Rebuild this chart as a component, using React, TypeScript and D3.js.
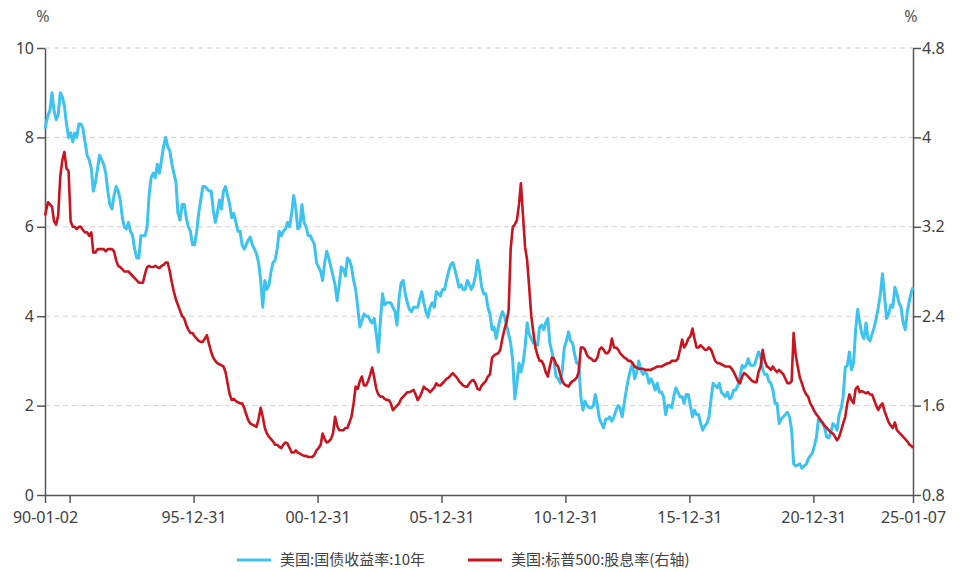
import * as d3 from "d3";
import React, { useEffect, useRef } from "react";

// monthly readings, Jan 1990 .. Jan 2025
const treasury10y = [
  8.2, 8.5, 8.6, 9.0, 8.6, 8.4, 8.5, 9.0, 8.9, 8.7, 8.3, 8.0, // 1990
  8.1, 7.9, 8.1, 8.0, 8.3, 8.3, 8.2, 7.9, 7.6, 7.5, 7.3, 6.8, // 1991
  7.0, 7.3, 7.6, 7.5, 7.4, 7.2, 6.8, 6.5, 6.4, 6.7, 6.9, 6.8, // 1992
  6.6, 6.2, 6.0, 5.95, 6.1, 5.9, 5.8, 5.5, 5.3, 5.3, 5.8, 5.8, // 1993
  5.8, 6.0, 6.7, 7.1, 7.2, 7.1, 7.4, 7.2, 7.5, 7.8, 8.0, 7.8, // 1994
  7.7, 7.4, 7.2, 7.0, 6.3, 6.15, 6.5, 6.5, 6.2, 6.0, 5.9, 5.6, // 1995
  5.6, 5.9, 6.3, 6.6, 6.9, 6.9, 6.85, 6.8, 6.8, 6.4, 6.1, 6.3, // 1996
  6.6, 6.4, 6.8, 6.9, 6.7, 6.5, 6.2, 6.3, 6.1, 5.9, 5.9, 5.6, // 1997
  5.5, 5.6, 5.7, 5.77, 5.6, 5.5, 5.4, 5.2, 4.8, 4.2, 4.8, 4.6, // 1998
  4.7, 5.0, 5.2, 5.25, 5.5, 5.9, 5.8, 5.9, 5.95, 6.1, 6.0, 6.3, // 1999
  6.7, 6.4, 5.95, 6.0, 6.5, 6.1, 6.0, 5.8, 5.8, 5.7, 5.6, 5.2, // 2000
  5.1, 5.0, 4.8, 5.2, 5.45, 5.3, 5.1, 4.9, 4.7, 4.35, 4.7, 5.1, // 2001
  5.05, 4.9, 5.3, 5.25, 5.1, 4.8, 4.6, 4.2, 3.76, 3.9, 4.05, 4.0, // 2002
  4.0, 3.9, 3.85, 3.95, 3.6, 3.2, 3.9, 4.5, 4.25, 4.3, 4.3, 4.3, // 2003
  4.2, 4.1, 3.8, 4.4, 4.75, 4.8, 4.5, 4.3, 4.15, 4.1, 4.2, 4.2, // 2004
  4.2, 4.4, 4.55, 4.3, 4.1, 3.98, 4.2, 4.3, 4.2, 4.55, 4.5, 4.45, // 2005
  4.6, 4.6, 4.8, 5.0, 5.15, 5.2, 5.05, 4.85, 4.65, 4.7, 4.6, 4.6, // 2006
  4.8, 4.7, 4.6, 4.7, 4.9, 5.25, 5.0, 4.65, 4.5, 4.5, 4.2, 4.05, // 2007
  3.7, 3.75, 3.5, 3.75, 3.95, 4.1, 4.0, 3.8, 3.6, 3.4, 3.0, 2.15, // 2008
  2.5, 2.95, 2.75, 2.95, 3.3, 3.85, 3.6, 3.5, 3.4, 3.4, 3.35, 3.75, // 2009
  3.8, 3.7, 3.85, 3.95, 3.4, 3.2, 3.0, 2.65, 2.6, 2.5, 2.8, 3.3, // 2010
  3.45, 3.65, 3.45, 3.4, 3.15, 2.95, 2.95, 2.2, 1.9, 2.1, 2.0, 1.95, // 2011
  1.95, 2.0, 2.25, 2.0, 1.7, 1.6, 1.5, 1.7, 1.7, 1.75, 1.65, 1.75, // 2012
  1.9, 2.0, 1.95, 1.75, 2.05, 2.35, 2.6, 2.8, 2.95, 2.6, 2.75, 3.0, // 2013
  2.8, 2.7, 2.75, 2.7, 2.5, 2.6, 2.5, 2.35, 2.5, 2.3, 2.3, 2.2, // 2014
  1.8, 2.0, 2.0, 1.95, 2.2, 2.4, 2.3, 2.2, 2.2, 2.05, 2.25, 2.25, // 2015
  2.0, 1.75, 1.9, 1.8, 1.8, 1.6, 1.45, 1.55, 1.6, 1.75, 2.15, 2.5, // 2016
  2.45, 2.4, 2.5, 2.3, 2.25, 2.2, 2.3, 2.15, 2.2, 2.35, 2.35, 2.45, // 2017
  2.65, 2.9, 2.85, 2.9, 3.05, 2.9, 2.9, 2.9, 3.05, 3.2, 3.1, 2.8, // 2018
  2.7, 2.7, 2.55, 2.5, 2.35, 2.05, 2.05, 1.6, 1.7, 1.75, 1.8, 1.85, // 2019
  1.75, 1.45, 0.7, 0.65, 0.67, 0.7, 0.6, 0.65, 0.68, 0.8, 0.88, 0.93, // 2020
  1.1, 1.3, 1.7, 1.65, 1.6, 1.5, 1.3, 1.28, 1.4, 1.6, 1.55, 1.45, // 2021
  1.8, 1.95, 2.2, 2.85, 2.9, 3.2, 2.8, 2.95, 3.7, 4.15, 3.85, 3.6, // 2022
  3.5, 3.85, 3.5, 3.45, 3.6, 3.75, 3.95, 4.2, 4.5, 4.95, 4.45, 3.95, // 2023
  4.05, 4.25, 4.2, 4.65, 4.5, 4.3, 4.2, 3.85, 3.7, 4.1, 4.35, 4.55, // 2024
  4.65, // 2025
];

const sp500DivYield = [
  3.3, 3.42, 3.4, 3.38, 3.25, 3.22, 3.3, 3.65, 3.8, 3.87, 3.72, 3.7, // 1990
  3.25, 3.2, 3.2, 3.18, 3.2, 3.2, 3.17, 3.15, 3.15, 3.12, 3.15, 2.97, // 1991
  2.97, 3.0, 3.0, 3.0, 3.0, 2.98, 3.0, 3.0, 3.0, 2.98, 2.9, 2.85, // 1992
  2.84, 2.82, 2.8, 2.8, 2.8, 2.78, 2.76, 2.74, 2.72, 2.7, 2.7, 2.7, // 1993
  2.78, 2.84, 2.85, 2.84, 2.84, 2.85, 2.84, 2.83, 2.85, 2.86, 2.88, 2.88, // 1994
  2.8, 2.7, 2.62, 2.55, 2.5, 2.45, 2.4, 2.38, 2.32, 2.28, 2.25, 2.25, // 1995
  2.22, 2.2, 2.18, 2.17, 2.17, 2.2, 2.23, 2.15, 2.08, 2.03, 2.0, 1.98, // 1996
  1.97, 1.96, 1.95, 1.9, 1.8, 1.7, 1.65, 1.66, 1.64, 1.63, 1.62, 1.62, // 1997
  1.58, 1.52, 1.47, 1.44, 1.43, 1.42, 1.41, 1.48, 1.58, 1.5, 1.4, 1.35, // 1998
  1.32, 1.3, 1.28, 1.25, 1.25, 1.23, 1.22, 1.25, 1.27, 1.26, 1.22, 1.18, // 1999
  1.18, 1.2, 1.18, 1.17, 1.16, 1.15, 1.15, 1.14, 1.14, 1.14, 1.16, 1.2, // 2000
  1.22, 1.25, 1.35, 1.3, 1.27, 1.28, 1.3, 1.35, 1.5, 1.42, 1.38, 1.38, // 2001
  1.38, 1.4, 1.4, 1.45, 1.5, 1.62, 1.77, 1.75, 1.82, 1.86, 1.78, 1.78, // 2002
  1.82, 1.88, 1.94, 1.85, 1.75, 1.7, 1.68, 1.68, 1.66, 1.65, 1.65, 1.62, // 2003
  1.56, 1.58, 1.6, 1.62, 1.66, 1.68, 1.7, 1.72, 1.72, 1.73, 1.74, 1.7, // 2004
  1.65, 1.68, 1.72, 1.77, 1.75, 1.74, 1.72, 1.74, 1.76, 1.8, 1.78, 1.78, // 2005
  1.8, 1.82, 1.84, 1.85, 1.87, 1.89, 1.87, 1.85, 1.82, 1.8, 1.78, 1.77, // 2006
  1.77, 1.8, 1.82, 1.83, 1.8, 1.75, 1.74, 1.78, 1.8, 1.82, 1.86, 1.88, // 2007
  2.03, 2.05, 2.06, 2.07, 2.1, 2.2, 2.28, 2.35, 2.45, 3.0, 3.2, 3.22, // 2008
  3.26, 3.4, 3.59, 3.3, 3.02, 2.9, 2.66, 2.4, 2.25, 2.12, 2.05, 2.0, // 2009
  2.0, 1.96, 1.9, 1.86, 1.95, 2.03, 2.02, 1.97, 1.95, 1.88, 1.82, 1.79, // 2010
  1.78, 1.77, 1.8, 1.82, 1.83, 1.85, 1.9, 2.12, 2.12, 2.1, 2.05, 2.03, // 2011
  2.02, 2.0, 2.0, 2.03, 2.1, 2.12, 2.1, 2.07, 2.07, 2.1, 2.2, 2.12, // 2012
  2.12, 2.1, 2.07, 2.05, 2.03, 2.02, 2.0, 2.0, 1.98, 1.95, 1.94, 1.93, // 2013
  1.93, 1.93, 1.92, 1.92, 1.92, 1.92, 1.93, 1.94, 1.95, 1.95, 1.95, 1.96, // 2014
  1.97, 1.98, 1.98, 2.0, 2.0, 2.0, 2.02, 2.1, 2.19, 2.12, 2.15, 2.2, // 2015
  2.22, 2.29, 2.2, 2.12, 2.12, 2.14, 2.12, 2.1, 2.1, 2.12, 2.1, 2.05, // 2016
  2.0, 1.98, 1.98, 1.97, 1.96, 1.95, 1.95, 1.95, 1.93, 1.9, 1.86, 1.82, // 2017
  1.8, 1.86, 1.89, 1.88, 1.86, 1.84, 1.82, 1.81, 1.81, 1.9, 1.95, 2.1, // 2018
  2.0, 1.95, 1.94, 1.92, 1.95, 1.92, 1.9, 1.92, 1.9, 1.88, 1.84, 1.8, // 2019
  1.8, 1.82, 2.25, 2.05, 1.95, 1.85, 1.8, 1.74, 1.7, 1.68, 1.62, 1.59, // 2020
  1.55, 1.52, 1.5, 1.47, 1.45, 1.42, 1.4, 1.38, 1.36, 1.35, 1.32, 1.29, // 2021
  1.32, 1.38, 1.44, 1.5, 1.62, 1.7, 1.65, 1.62, 1.75, 1.77, 1.72, 1.73, // 2022
  1.72, 1.71, 1.72, 1.7, 1.7, 1.65, 1.6, 1.56, 1.6, 1.62, 1.55, 1.5, // 2023
  1.45, 1.42, 1.4, 1.45, 1.38, 1.36, 1.34, 1.32, 1.3, 1.28, 1.25, 1.24, // 2024
  1.22, // 2025
];

const firstDay = "1990-01-02";
const lastDay = "2025-01-07";
const xTickDates = [
  "1990-01-02", "1990-12-31", "1995-12-31", "2000-12-31",
  "2005-12-31", "2010-12-31", "2015-12-31", "2020-12-31", "2025-01-07",
];
const unlabeledTicks = ["1990-12-31"];
const leftTicks = [0, 2, 4, 6, 8, 10];
const rightTicks = [0.8, 1.6, 2.4, 3.2, 4, 4.8];
const seriesNames = ["美国:国债收益率:10年", "美国:标普500:股息率(右轴)"];
const seriesColors = ["#3ec3ee", "#c8141e"];

const parse = d3.timeParse("%Y-%m-%d");

const App: React.FC = () => {
  const svgRef = useRef<SVGSVGElement>(null);

  useEffect(() => {
    document.body.style.margin = "0";
    const svg = d3.select(svgRef.current);
    svg.selectAll("*").remove();

    const margin = { top: 48, right: 47, bottom: 77, left: 45 };
    const W = 960, H = 572;
    const width = W - margin.left - margin.right;
    const height = H - margin.top - margin.bottom;

    const start = parse(firstDay)!;
    const end = parse(lastDay)!;
    const dates = treasury10y.map((_, i) =>
      i === 0 ? start : i === treasury10y.length - 1 ? end : new Date(1990, i, 15),
    );

    const x = d3.scaleTime().domain([start, end]).range([0, width]);
    const yL = d3.scaleLinear().domain([0, 10]).range([height, 0]);
    const yR = d3.scaleLinear().domain([0.8, 4.8]).range([height, 0]);

    const g = svg
      .append("g")
      .attr("transform", `translate(${margin.left},${margin.top})`);

    const font = "'Noto Sans', 'Noto Sans CJK SC', sans-serif";

    // grid
    g.append("g")
      .selectAll("line")
      .data(leftTicks.filter(t => t > 0))
      .join("line")
      .attr("x1", 0)
      .attr("x2", width)
      .attr("y1", d => yL(d))
      .attr("y2", d => yL(d))
      .attr("stroke", "#d0d0d0")
      .attr("stroke-width", 1)
      .attr("stroke-dasharray", "5,4");

    const styleAxis = (sel: any) => {
      sel.select(".domain").attr("stroke", "#555").attr("stroke-width", 1.5);
      sel.selectAll(".tick line").attr("stroke", "#555").attr("stroke-width", 1.5);
      sel
        .selectAll(".tick text")
        .attr("fill", "#404040")
        .style("font-family", font)
        .style("font-size", "16px");
    };

    g.append("g")
      .call(
        d3.axisLeft(yL).tickValues(leftTicks).tickSize(8).tickPadding(3).tickSizeOuter(0),
      )
      .call(styleAxis);

    g.append("g")
      .attr("transform", `translate(${width},0)`)
      .call(
        d3.axisRight(yR).tickValues(rightTicks).tickSize(8).tickPadding(1).tickSizeOuter(0)
          .tickFormat(d => d3.format("")(+d)),
      )
      .call(styleAxis);

    const fmt = d3.timeFormat("%y-%m-%d");
    g.append("g")
      .attr("transform", `translate(0,${height})`)
      .call(
        d3.axisBottom(x)
          .tickValues(xTickDates.map(d => parse(d)!))
          .tickSize(8)
          .tickPadding(9)
          .tickSizeOuter(0)
          .tickFormat(d => (unlabeledTicks.includes(d3.timeFormat("%Y-%m-%d")(d as Date)) ? "" : fmt(d as Date))),
      )
      .call(styleAxis);

    // unit labels
    [
      [0, "%"],
      [width, "%"],
    ].forEach(([px, t]) => {
      g.append("text")
        .attr("x", (px as number) - 2)
        .attr("y", -26)
        .attr("text-anchor", "middle")
        .attr("fill", "#555")
        .style("font-family", font)
        .style("font-size", "16px")
        .text(t as string);
    });

    const lineL = d3
      .line<number>()
      .x((_, i) => x(dates[i]))
      .y(d => yL(d));
    const lineR = d3
      .line<number>()
      .x((_, i) => x(dates[i]))
      .y(d => yR(d));

    g.append("path")
      .datum(treasury10y)
      .attr("fill", "none")
      .attr("stroke", seriesColors[0])
      .attr("stroke-width", 3)
      .attr("stroke-linejoin", "round")
      .attr("d", lineL);

    g.append("path")
      .datum(sp500DivYield)
      .attr("fill", "none")
      .attr("stroke", seriesColors[1])
      .attr("stroke-width", 2.6)
      .attr("stroke-linejoin", "round")
      .attr("d", lineR);

    // legend
    const legend = svg.append("g").attr("transform", "translate(237,560)");
    const offsets = [0, 231];
    seriesNames.forEach((name, i) => {
      const lg = legend.append("g").attr("transform", `translate(${offsets[i]},0)`);
      lg.append("line")
        .attr("x1", 0)
        .attr("x2", 34)
        .attr("y1", 0)
        .attr("y2", 0)
        .attr("stroke", seriesColors[i])
        .attr("stroke-width", 3);
      lg.append("text")
        .attr("x", 43)
        .attr("y", 0)
        .attr("dy", "0.35em")
        .attr("fill", "#404040")
        .style("font-family", "'Noto Sans CJK SC', sans-serif")
        .style("font-size", "15px")
        .text(name);
    });
  }, []);

  return <svg ref={svgRef} width={960} height={572} style={{ display: "block", background: "#fff" }} />;
};

export default App;
